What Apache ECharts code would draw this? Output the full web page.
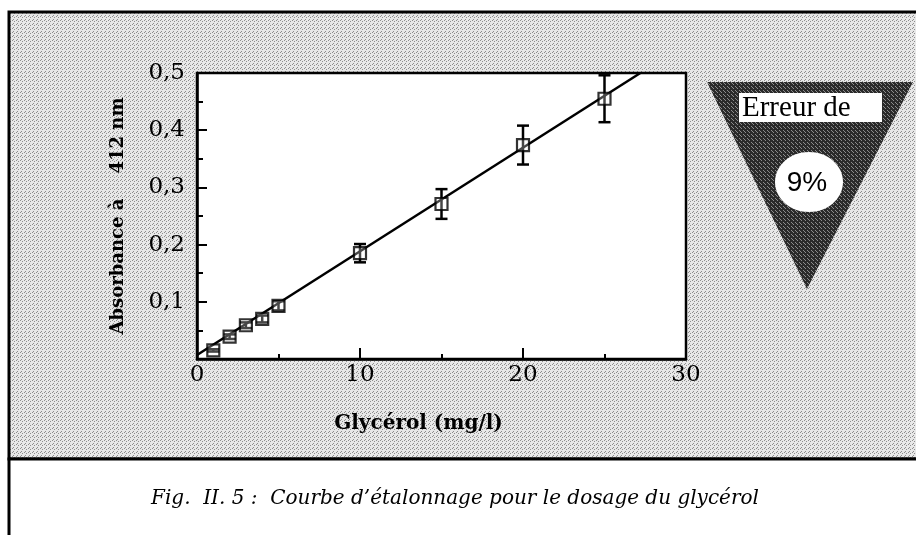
<!DOCTYPE html>
<html>
<head>
<meta charset="utf-8">
<script src="https://cdn.jsdelivr.net/npm/echarts@6/dist/echarts.min.js"></script>
<style>html,body{margin:0;padding:0;background:#fff;}#c{width:916px;height:535px;}</style>
</head>
<body>
<div id="c"></div>
<script>
// ---- data ----
const glycerol = [1, 2, 3, 4, 5, 10, 15, 20, 25];                 // mg/l
const absorbance = [0.015, 0.039, 0.059, 0.070, 0.093, 0.185, 0.271, 0.374, 0.455];
const errBar = [0.002, 0.004, 0.005, 0.006, 0.008, 0.016, 0.026, 0.034, 0.041];
const fitX = [0, 27.2];
const fitY = [0.007, 0.5];
const xTickLabels = ['0', '10', '20', '30'];
const yTickLabels = ['', '0,1', '0,2', '0,3', '0,4', '0,5'];
const xTitle = 'Glycérol (mg/l)';
const yTitle = 'Absorbance à    412 nm';
const boxTitle = 'Erreur de';
const boxValue = '9%';
const caption = 'Fig.  II. 5 :  Courbe d\u2019étalonnage pour le dosage du glycérol';

function makePattern(base, dot, cells) {
  const c = document.createElement('canvas');
  c.width = 4; c.height = 4;
  const g = c.getContext('2d');
  g.fillStyle = base; g.fillRect(0, 0, 4, 4);
  g.fillStyle = dot;
  cells.forEach(p => g.fillRect(p[0], p[1], 1, 1));
  return { image: c, repeat: 'repeat' };
}
const lightPat = makePattern('#e8e8e8', '#8e8e8e', [[0,0],[2,1],[1,3]]);
const darkPat = makePattern('#2a2a2a', '#8c8c8c', [[1,0],[3,2],[0,3]]);

const chart = echarts.init(document.getElementById('c'), null, {renderer: 'canvas'});

const errData = glycerol.map((x, i) => [x, absorbance[i], errBar[i]]);
const ptData = glycerol.map((x, i) => [x, absorbance[i]]);
const fitData = fitX.map((x, i) => [x, fitY[i]]);

const serif = 'DejaVu Serif';

chart.setOption({
  animation: false,
  backgroundColor: '#ffffff',
  graphic: [
    { type: 'rect', z: -20, silent: true, shape: { x: 9, y: 12, width: 920, height: 447 },
      style: { fill: lightPat, stroke: '#000', lineWidth: 3 } },
    { type: 'rect', z: -20, silent: true, shape: { x: 9, y: 459, width: 920, height: 90 },
      style: { fill: '#fff', stroke: '#000', lineWidth: 3 } },
    { type: 'polygon', z: 5, silent: true, shape: { points: [[707, 82], [913, 82], [807, 289]] },
      style: { fill: darkPat } },
    { type: 'rect', z: 6, silent: true, shape: { x: 739, y: 93, width: 143, height: 29 },
      style: { fill: '#fff' } },
    { type: 'text', z: 7, silent: true, x: 742, y: 108,
      style: { text: boxTitle, font: '29px "Liberation Serif"', fill: '#000', textVerticalAlign: 'middle', verticalAlign: 'middle' } },
    { type: 'ellipse', z: 6, silent: true, shape: { cx: 809, cy: 182, rx: 34, ry: 30 },
      style: { fill: '#fff' } },
    { type: 'text', z: 7, silent: true, x: 807, y: 183,
      style: { text: boxValue, font: '28px "Liberation Sans"', fill: '#000', align: 'center', textAlign: 'center', verticalAlign: 'middle', textVerticalAlign: 'middle' } },
    { type: 'text', z: 7, silent: true, x: 455, y: 499,
      style: { text: caption, font: 'italic 20px "DejaVu Serif"', fill: '#000', align: 'center', textAlign: 'center', verticalAlign: 'middle', textVerticalAlign: 'middle' } }
  ],
  grid: { left: 197, right: 230, top: 73, bottom: 176, show: true, backgroundColor: '#fff',
          borderColor: '#000', borderWidth: 2.5, z: 0 },
  xAxis: {
    type: 'value', min: 0, max: 30, interval: 10,
    name: xTitle, nameLocation: 'middle', nameGap: 55,
    nameTextStyle: { fontFamily: serif, fontWeight: 'bold', fontSize: 20, color: '#000', padding: [0, 46, 0, 0] },
    axisLine: { lineStyle: { color: '#000', width: 2.5 } },
    axisTick: { inside: true, length: 11, lineStyle: { color: '#000', width: 2 } },
    minorTick: { show: true, splitNumber: 2, length: 5, lineStyle: { color: '#000', width: 2 } },
    splitLine: { show: false },
    axisLabel: { fontFamily: serif, fontSize: 23, color: '#000', margin: 5,
      formatter: (v) => xTickLabels[Math.round(v / 10)] },
  },
  yAxis: {
    type: 'value', min: 0, max: 0.5, interval: 0.1,
    name: yTitle, nameLocation: 'middle', nameGap: 70, nameRotate: 90,
    nameTextStyle: { fontFamily: serif, fontWeight: 'bold', fontSize: 18, color: '#000' },
    axisLine: { lineStyle: { color: '#000', width: 2.5 } },
    axisTick: { inside: true, length: 10, lineStyle: { color: '#000', width: 2 } },
    minorTick: { show: true, splitNumber: 2, length: 6, lineStyle: { color: '#000', width: 2 } },
    splitLine: { show: false },
    axisLabel: { fontFamily: serif, fontSize: 23, color: '#000', margin: 12,
      formatter: (v) => yTickLabels[Math.round(v * 10)] },
  },
  series: [
    { type: 'line', data: fitData, showSymbol: false, symbol: 'none', clip: true,
      lineStyle: { color: '#000', width: 2.5 }, z: 2 },
    { type: 'custom', data: errData, z: 3,
      renderItem: (params, api) => {
        const x = api.value(0), y = api.value(1), e = api.value(2);
        const top = api.coord([x, y + e]);
        const bot = api.coord([x, y - e]);
        const h = 6;
        const st = { stroke: '#000', lineWidth: 2.5 };
        return { type: 'group', children: [
          { type: 'line', shape: { x1: top[0], y1: top[1], x2: bot[0], y2: bot[1] }, style: st },
          { type: 'line', shape: { x1: top[0] - h, y1: top[1], x2: top[0] + h, y2: top[1] }, style: st },
          { type: 'line', shape: { x1: bot[0] - h, y1: bot[1], x2: bot[0] + h, y2: bot[1] }, style: st }
        ] };
      } },
    { type: 'scatter', data: ptData, symbol: 'rect', symbolSize: 12, z: 4,
      itemStyle: { color: 'rgba(255,255,255,0.35)', borderColor: '#000', borderWidth: 2.2 } }
  ]
});
</script>
</body>
</html>
